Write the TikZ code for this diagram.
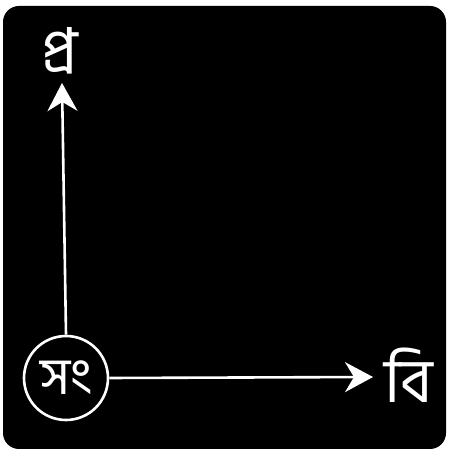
\documentclass[tikz,border=0pt]{standalone}
\usepackage{fontspec}
\newfontfamily\bn[Script=Bengali]{Hind Siliguri}
\usetikzlibrary{arrows.meta}
\begin{document}
\begin{tikzpicture}[x=1pt,y=1pt,
  lbl/.style={text=white,font=\bn\fontsize{62}{62}\selectfont,inner sep=0pt},
  arr/.style={draw=white,line width=2.6pt,-{Stealth[length=28pt,width=30pt,inset=9pt]}}]
\useasboundingbox[fill=white] (0,0) rectangle (454,455);
\fill[black,rounded corners=16pt] (3,6) rectangle (446,449);
\node[circle,draw=white,line width=2.6pt,minimum size=84pt,inner sep=0pt,lbl,font=\bn\fontsize{52}{52}\selectfont] (s) at (66,77) {সং};
\node[lbl] (p) at (60,404) {প্র};
\node[lbl] (b) at (409,80) {বি};
\coordinate (pt) at (62,372);
\coordinate (bt) at (373,78);
\draw[arr] (s.north) -- (pt);
\draw[arr] (s.east) -- (bt);
\end{tikzpicture}
\end{document}
